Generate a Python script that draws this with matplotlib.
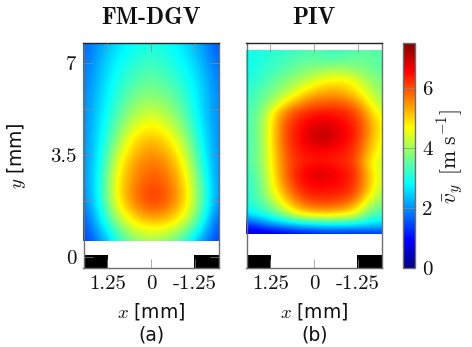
import numpy as np
import matplotlib
matplotlib.use("Agg")
import matplotlib.pyplot as plt
from matplotlib.colors import LinearSegmentedColormap
from matplotlib.patches import Rectangle

plt.rcParams['mathtext.fontset'] = 'cm'

# mean velocity, rows go from top of image to bottom, columns from x=1.93 to x=-1.93
fm_dgv = [
    [1.6, 2.1, 2.6, 2.8, 3.0, 2.85, 2.6, 2.1, 1.5],
    [1.7, 2.3, 2.8, 3.1, 3.3, 3.1, 2.8, 2.3, 1.7],
    [1.8, 2.4, 3.0, 3.4, 3.6, 3.4, 3.0, 2.5, 1.8],
    [1.9, 2.5, 3.2, 3.8, 4.0, 3.8, 3.3, 2.5, 1.9],
    [1.9, 2.6, 3.5, 4.3, 4.7, 4.3, 3.6, 2.6, 1.9],
    [1.9, 2.7, 3.9, 5.0, 5.3, 5.0, 4.1, 2.8, 1.9],
    [1.9, 2.8, 4.5, 5.4, 5.7, 5.5, 4.6, 3.0, 1.9],
    [1.9, 2.9, 4.8, 5.6, 6.0, 5.8, 5.0, 3.3, 1.9],
    [1.8, 2.9, 4.8, 5.7, 6.3, 6.0, 5.1, 3.5, 1.9],
    [1.4, 2.6, 3.9, 4.9, 5.2, 5.1, 4.5, 3.1, 1.4],
    [1.3, 1.9, 2.9, 3.7, 3.9, 3.7, 3.0, 2.0, 1.3],
]
piv = [
    [3.0, 3.0, 3.1, 3.2, 3.3, 3.5, 3.3, 3.3, 3.4, 3.5, 3.4],
    [2.9, 3.0, 3.2, 3.3, 3.5, 3.5, 3.4, 3.5, 3.6, 3.6, 3.4],
    [2.9, 3.1, 3.3, 3.5, 3.7, 3.9, 4.1, 4.1, 3.9, 3.7, 3.5],
    [3.0, 3.2, 3.5, 3.8, 4.1, 4.4, 4.7, 4.8, 4.6, 4.0, 3.7],
    [3.1, 3.4, 3.7, 4.1, 4.6, 5.1, 5.3, 5.2, 4.9, 4.3, 3.8],
    [3.2, 3.5, 4.0, 4.7, 5.4, 5.7, 5.8, 5.8, 5.5, 4.7, 4.0],
    [3.3, 3.6, 4.7, 5.7, 6.1, 6.3, 6.4, 6.3, 6.1, 5.2, 4.3],
    [3.3, 3.7, 5.0, 6.0, 6.4, 6.7, 6.7, 6.5, 6.3, 5.5, 4.6],
    [3.3, 3.7, 5.0, 6.1, 6.5, 6.9, 7.0, 6.7, 6.4, 5.6, 4.6],
    [3.3, 3.7, 5.0, 6.1, 6.5, 6.9, 6.9, 6.6, 6.3, 5.4, 4.5],
    [3.3, 3.7, 4.9, 6.0, 6.4, 6.5, 6.5, 6.4, 6.2, 5.2, 4.4],
    [3.3, 3.7, 4.9, 5.9, 6.3, 6.4, 6.4, 6.3, 6.1, 4.9, 4.2],
    [3.2, 3.6, 4.8, 5.9, 6.5, 6.8, 6.8, 6.5, 6.3, 5.2, 4.2],
    [3.1, 3.5, 4.7, 5.8, 6.4, 6.6, 6.6, 6.5, 6.2, 5.2, 4.2],
    [3.1, 3.5, 4.5, 5.4, 6.2, 6.4, 6.4, 6.3, 6.1, 5.0, 4.0],
    [3.0, 3.3, 4.0, 5.0, 5.7, 6.0, 6.0, 5.9, 5.5, 4.3, 3.7],
    [2.7, 3.0, 3.4, 4.1, 4.9, 5.1, 5.2, 5.0, 4.7, 3.6, 3.3],
    [1.3, 1.7, 2.2, 2.4, 2.7, 2.8, 2.9, 2.9, 2.9, 2.7, 2.6],
    [0.5, 0.5, 0.6, 0.7, 0.8, 0.9, 1.0, 1.0, 1.0, 1.1, 1.2],
]

titles = ['FM-DGV', 'PIV']
subcaps = ['(a)', '(b)']
x_ticks = [1.25, 0, -1.25]
x_labels = ['1.25', '0', '-1.25']
y_ticks = [-0.38, 1.75, 3.5, 5.25, 7]
y_labels = ['0', '', '3.5', '', '7']
cbar_ticks = [0, 2, 4, 6]

x_lim = 1.93
y_lim = (-0.80, 7.76)
# top and bottom of the measured area per panel
y_range = [(7.76, 0.23), (7.49, 0.49)]
mask_w = 0.70
mask_top = -0.30
vmax = 7.5

W, H = 472, 347
TICK = '#8c8c8c'
EDGE = '#6e6e6e'
INK = '#111111'

jet = LinearSegmentedColormap.from_list('pgfjet', [
    (0, '#000080'), (1/8, '#0000ff'), (3/8, '#00ffff'),
    (5/8, '#ffff00'), (7/8, '#ff0000'), (1, '#800000')])


def px_axes(fig, left, top, right, bottom):
    return fig.add_axes([left/W, 1 - bottom/H, (right-left)/W, (bottom-top)/H])


def draw_field(ax, data, top, bottom):
    data = np.array(data)
    rows, cols = data.shape
    dx = 2*x_lim/(cols-1)
    dy = (top-bottom)/(rows-1)
    im = ax.imshow(data, cmap=jet, vmin=0, vmax=vmax, aspect='auto', interpolation='bicubic',
                   extent=[x_lim+dx/2, -x_lim-dx/2, bottom-dy/2, top+dy/2])
    clip = Rectangle((-x_lim, bottom), 2*x_lim, top-bottom, transform=ax.transData)
    im.set_clip_path(clip)
    return im


fig = plt.figure(figsize=(W/100, H/100), dpi=100)
boxes = [(83.5, 43, 219, 268), (246.5, 43, 382, 268)]

for i, box in enumerate(boxes):
    ax = px_axes(fig, *box)
    im = draw_field(ax, [fm_dgv, piv][i], *y_range[i])
    ax.set_xlim(x_lim, -x_lim)
    ax.set_ylim(*y_lim)
    # black blocks at the nozzle edges
    ax.add_patch(Rectangle((x_lim, y_lim[0]), -mask_w, mask_top-y_lim[0], color='k', lw=0, zorder=2))
    ax.add_patch(Rectangle((-x_lim, y_lim[0]), mask_w, mask_top-y_lim[0], color='k', lw=0, zorder=2))
    ax.set_xticks(x_ticks)
    ax.set_xticklabels(x_labels, family='cmr10')
    ax.tick_params(axis='x', direction='in', top=True, length=6.5, width=0.5, color=TICK,
                   labelsize=15, pad=5, labelcolor=INK)
    if i == 0:
        ax.set_yticks(y_ticks)
        ax.set_yticklabels(y_labels, family='cmr10')
        ax.tick_params(axis='y', direction='in', right=True, length=6.5, width=0.5, color=TICK,
                       labelsize=15, pad=5, labelcolor=INK)
        ax.set_ylabel('$y$ [mm]', fontsize=13.5, color=INK)
        ax.yaxis.set_label_coords(-0.41, 0.5)
    else:
        ax.set_yticks([])
    ax.set_axisbelow(False)
    for s in ax.spines.values():
        s.set_color(EDGE)
        s.set_linewidth(1.0)
    ax.spines['top'].set_color('#222222')
    cx = (box[0]+box[2])/2
    fig.text(cx/W, 1-18/H, titles[i], family='cmb10', fontsize=17, ha='center', va='center', color=INK)
    fig.text(cx/W, 1-311/H, '$x$ [mm]', fontsize=13.5, ha='center', va='center', color=INK)
    fig.text(cx/W, 1-335/H, subcaps[i], fontsize=13.5, ha='center', va='center', color=INK)

cax = px_axes(fig, 403, 43, 415, 268)
cb = fig.colorbar(im, cax=cax)
cb.set_ticks(cbar_ticks)
cb.set_ticklabels(['%d' % t for t in cbar_ticks], family='cmr10')
cax.tick_params(direction='in', length=8.5, width=0.5, color=TICK, labelsize=15, pad=5, labelcolor=INK)
cb.outline.set_edgecolor(EDGE)
cb.outline.set_linewidth(1.0)
fig.text(451/W, 1-156/H, r'$\bar{v}_y\ \,[\mathrm{m\ s}^{-1}]$', rotation=90, fontsize=15.5, ha='center', va='center', color=INK)

fig.savefig('out.png', dpi=100)
